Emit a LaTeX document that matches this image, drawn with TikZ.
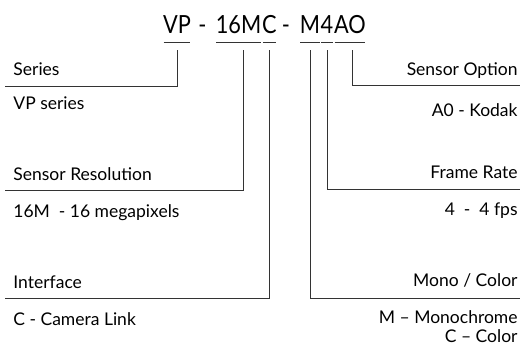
\documentclass[tikz,border=0pt]{standalone}
\usepackage{fontspec}
\setmainfont{Lato}
\newfontfamily\codefont{Lato}[FakeStretch=0.87]
\usetikzlibrary{positioning}

\begin{document}
\begin{tikzpicture}[x=1pt, y=-1pt, line width=0.9pt, draw=black!80,
    code/.style={anchor=base, inner sep=0pt, font=\codefont\fontsize{25}{30}\selectfont},
    lbl/.style={font=\fontsize{17.5}{21}\selectfont, inner sep=0pt},
    left lbl/.style={lbl, anchor=west},
    right lbl/.style={lbl, anchor=east}]
\useasboundingbox (0,0) rectangle (523,349);
% code, one piece at a time
\node[code] (vpcode) at (177,33.3) {VP};
\node[code] (dasha) at (202.5,33.3) {-};
\node[code] (rescode) at (238.5,33.3) {16M};
\node[code] (intfcode) at (269.5,33.3) {C};
\node[code] (dashb) at (286,33.3) {-};
\node[code] (monocode) at (310,33.3) {M};
\node[code] (ratecode) at (327,33.3) {4};
\node[code] (optcode) at (350,33.3) {AO};
% underlines
\coordinate (ul) at (0,42.3);
\foreach \part in {vpcode,rescode,intfcode,monocode,ratecode,optcode}
    \draw ([xshift=1pt]\part.west |- ul) -- ([xshift=-1pt]\part.east |- ul);
% tops of the leader lines
\coordinate (top) at (0,50);
\coordinate (vp) at (vpcode.base |- top);
\coordinate (res) at (243,50);
\coordinate (intf) at (intfcode.base |- top);
\coordinate (mono) at (monocode.base |- top);
\coordinate (rate) at (ratecode.base |- top);
\coordinate (opt) at (352,50);
% left labels
\node[left lbl] (series) at (13,69) {Series};
\node[left lbl, below=20pt of series.south west, anchor=north west] (seriesval) {VP series};
\node[left lbl] (sensres) at (13,174) {Sensor Resolution};
\node[left lbl, below=23pt of sensres.south west, anchor=north west] (sensresval) {16M\ \ - 16 megapixels};
\node[left lbl] (iface) at (13,282) {Interface};
\node[left lbl, below=23pt of iface.south west, anchor=north west] (ifaceval) {C - Camera Link};
% right labels
\node[right lbl] (sensopt) at (518,71) {Sensor Option};
\node[right lbl, below=24pt of sensopt.south east, anchor=north east] (sensoptval) {A0 - Kodak};
\node[right lbl] (frate) at (518,172) {Frame Rate};
\node[right lbl, below=24pt of frate.south east, anchor=north east] (frateval) {4\ \ -\ \ 4 fps};
\node[right lbl] (monocol) at (518,280) {Mono / Color};
\node[right lbl, below=23pt of monocol.south east, anchor=north east] (monocolval) {M -- Monochrome};
\node[right lbl, below=5pt of monocolval.south east, anchor=north east] (monocolval2) {C -- Color};
% leader lines
\coordinate (seriesend) at (5,86);
\coordinate (sensresend) at (5,190);
\coordinate (ifaceend) at (5,298);
\coordinate (sensoptend) at (520,85);
\coordinate (frateend) at (520,189);
\coordinate (monocolend) at (520,298);
\draw (vp) |- (seriesend);
\draw (res) |- (sensresend);
\draw (intf) |- (ifaceend);
\draw (opt) |- (sensoptend);
\draw (rate) |- (frateend);
\draw (mono) |- (monocolend);
\end{tikzpicture}
\end{document}
